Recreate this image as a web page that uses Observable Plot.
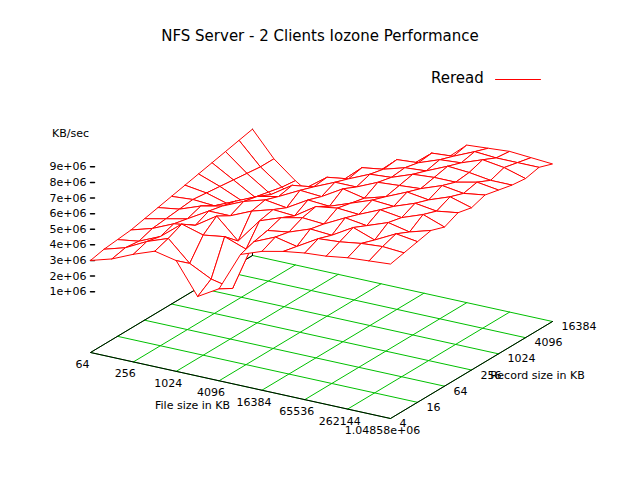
<!DOCTYPE html>
<html><head><meta charset="utf-8">
<script src="https://cdn.jsdelivr.net/npm/d3@7"></script>
<script src="https://cdn.jsdelivr.net/npm/@observablehq/plot@0.6"></script>
<style>body{margin:0;background:#fff;font-family:"DejaVu Sans",sans-serif}#wrap{position:relative;width:640px;height:480px}
.t{position:absolute;font-size:15px;color:#000}</style>
</head><body><div id="wrap">
<div class="t" style="left:0;width:640px;top:27px;text-align:center">NFS Server - 2 Clients Iozone Performance</div>
<div class="t" style="left:431px;top:69px">Reread</div>
</div>
<script>
const fileSizes=[64,128,256,512,1024,2048,4096,8192,16384,32768,65536,131072,262144,524288,1048576];
const recSizes=[4,8,16,32,64,128,256,512,1024,2048,4096,8192,16384];
const fileTicks=["64","256","1024","4096","16384","65536","262144","1.04858e+06"];
const recTicks=["4","16","64","256","1024","4096","16384"];
const zTicks=[1e6,2e6,3e6,4e6,5e6,6e6,7e6,8e6,9e6];
const zTickLabels=["1e+06","2e+06","3e+06","4e+06","5e+06","6e+06","7e+06","8e+06","9e+06"];
// Reread KB/sec (millions), rows = file sizes, cols = record sizes
const reread=[
[3.0,3.2,3.3,3.4,3.6,3.8,4.0,4.2,4.4,4.6,4.8,5.0,5.2],
[3.4,3.6,3.5,3.8,3.9,4.0,4.1,4.0,3.9,3.8,3.7,3.6,3.6],
[4.0,4.3,4.1,4.4,4.2,4.5,4.0,3.6,3.3,3.0,2.8,2.6,2.5],
[4.5,4.8,5.2,4.6,5.0,4.8,4.6,3.5,3.0,2.5,2.0,1.8,1.6],
[4.2,3.5,4.8,5.5,5.0,5.4,5.2,4.8,3.5,2.5,1.8,1.2,1.0],
[2.2,2.8,5.0,4.2,5.6,5.8,5.5,5.7,5.0,3.0,1.8,1.0,0.6],
[3.0,2.5,4.5,5.8,6.0,5.6,6.2,5.9,6.0,5.2,3.0,1.5,0.8],
[5.5,5.8,6.0,6.3,5.9,6.4,6.1,6.5,6.2,6.4,5.5,3.2,1.5],
[6.0,6.4,6.2,6.6,6.8,6.3,6.9,6.5,6.8,6.6,6.7,5.8,3.5],
[6.3,6.1,6.7,6.5,7.0,6.8,6.6,7.1,6.9,7.0,6.8,6.9,6.0],
[6.5,6.9,6.6,7.2,6.9,7.3,7.0,7.2,7.4,7.1,7.3,7.0,7.2],
[6.6,7.0,7.4,7.0,7.5,7.2,7.6,7.3,7.5,7.7,7.4,7.6,7.3],
[6.8,7.2,6.9,7.5,7.3,7.7,7.4,7.8,7.5,7.6,7.9,7.5,7.4],
[6.9,7.3,7.6,7.2,7.8,7.5,7.9,7.6,7.8,7.4,7.7,7.5,7.3],
[7.0,7.2,7.4,7.6,7.3,7.7,7.5,7.8,7.6,7.4,7.3,7.5,7.2]];

const L=[90,352],F=[390,418],B=[252,255],K=15.6e-6,Z0=2.9e6;
const px=(a,b)=>L[0]+a*(F[0]-L[0])+b*(B[0]-L[0]);
const py=(a,b,z)=>L[1]+a*(F[1]-L[1])+b*(B[1]-L[1])-(z==null?0:(z+Z0)*K);
const af=i=>i/(fileSizes.length-1), br=j=>j/(recSizes.length-1);

const cells=[];
for(let i=0;i<fileSizes.length-1;i++)for(let j=0;j<recSizes.length-1;j++)cells.push({i,j,depth:br(j)-af(i)});
cells.sort((p,q)=>q.depth-p.depth);
const poly=[];
cells.forEach((c,k)=>{[[0,0],[1,0],[1,1],[0,1],[0,0]].forEach(([di,dj])=>{
 const i=c.i+di,j=c.j+dj;poly.push({k,x:px(af(i),br(j)),y:py(af(i),br(j),reread[i][j]*1e6)});});});

const grid=[];let g=0;
fileTicks.forEach((t,n)=>{const a=n/(fileTicks.length-1);grid.push({g,x:px(a,0),y:py(a,0)},{g,x:px(a,1),y:py(a,1)});g++;});
recTicks.forEach((t,n)=>{const b=n/(recTicks.length-1);grid.push({g,x:px(0,b),y:py(0,b)},{g,x:px(1,b),y:py(1,b)});g++;});
const axes=[{x:px(0,1),y:py(0,1)},{x:px(0,0),y:py(0,0)},{x:px(1,0),y:py(1,0)},{x:px(1,1),y:py(1,1)}];
const fl=fileTicks.map((t,n)=>({t,x:px(n/(fileTicks.length-1),0)-8,y:py(n/(fileTicks.length-1),0)+12}));
const rl=recTicks.map((t,n)=>({t,x:px(1,n/(recTicks.length-1))+9,y:py(1,n/(recTicks.length-1))+5}));
const zl=zTicks.map((v,n)=>({t:zTickLabels[n],x:px(0,0)-4,y:py(0,0,v)}));
const zt=zTicks.flatMap((v,n)=>[{n,x:px(0,0),y:py(0,0,v)},{n,x:px(0,0)+4,y:py(0,0,v)}]);
const back=[{x:px(0,1),y:py(0,1)},{x:px(0,1),y:py(0,1,reread[0][12]*1e6)}];
const legendLine=[{x:495,y:79},{x:540,y:79}];

const plot=Plot.plot({width:640,height:480,margin:0,
 x:{domain:[0,640],range:[0,640],axis:null},y:{domain:[0,480],range:[0,480],axis:null},
 style:{fontFamily:"DejaVu Sans, sans-serif",fontSize:"11px",background:"transparent"},
 marks:[
  Plot.line(grid,{x:"x",y:"y",z:"g",stroke:"#00c000",strokeWidth:1}),
  Plot.line(axes,{x:"x",y:"y",stroke:"#000",strokeWidth:1}),
  Plot.line(back,{x:"x",y:"y",stroke:"#000",strokeWidth:1}),
  Plot.line(zt,{x:"x",y:"y",z:"n",stroke:"#000"}),
  Plot.line(poly,{x:"x",y:"y",z:"k",fill:"#fff",stroke:"#f00",strokeWidth:1}),
  Plot.text(fl,{x:"x",y:"y",text:"t",textAnchor:"middle",fontSize:11}),
  Plot.text(rl,{x:"x",y:"y",text:"t",textAnchor:"start",fontSize:11}),
  Plot.text(zl,{x:"x",y:"y",text:"t",textAnchor:"end",fontSize:11}),
  Plot.text(["KB/sec"],{x:[70],y:[133],text:d=>d,fontSize:11}),
  Plot.text(["File size in KB"],{x:[192],y:[405],text:d=>d,fontSize:11}),
  Plot.text(["Record size in KB"],{x:[537],y:[375],text:d=>d,fontSize:11}),
  Plot.line(legendLine,{x:"x",y:"y",stroke:"#f00",strokeWidth:1})
 ]});
plot.style.position="absolute";plot.style.left="0";plot.style.top="0";
document.getElementById("wrap").appendChild(plot);
</script></body></html>
